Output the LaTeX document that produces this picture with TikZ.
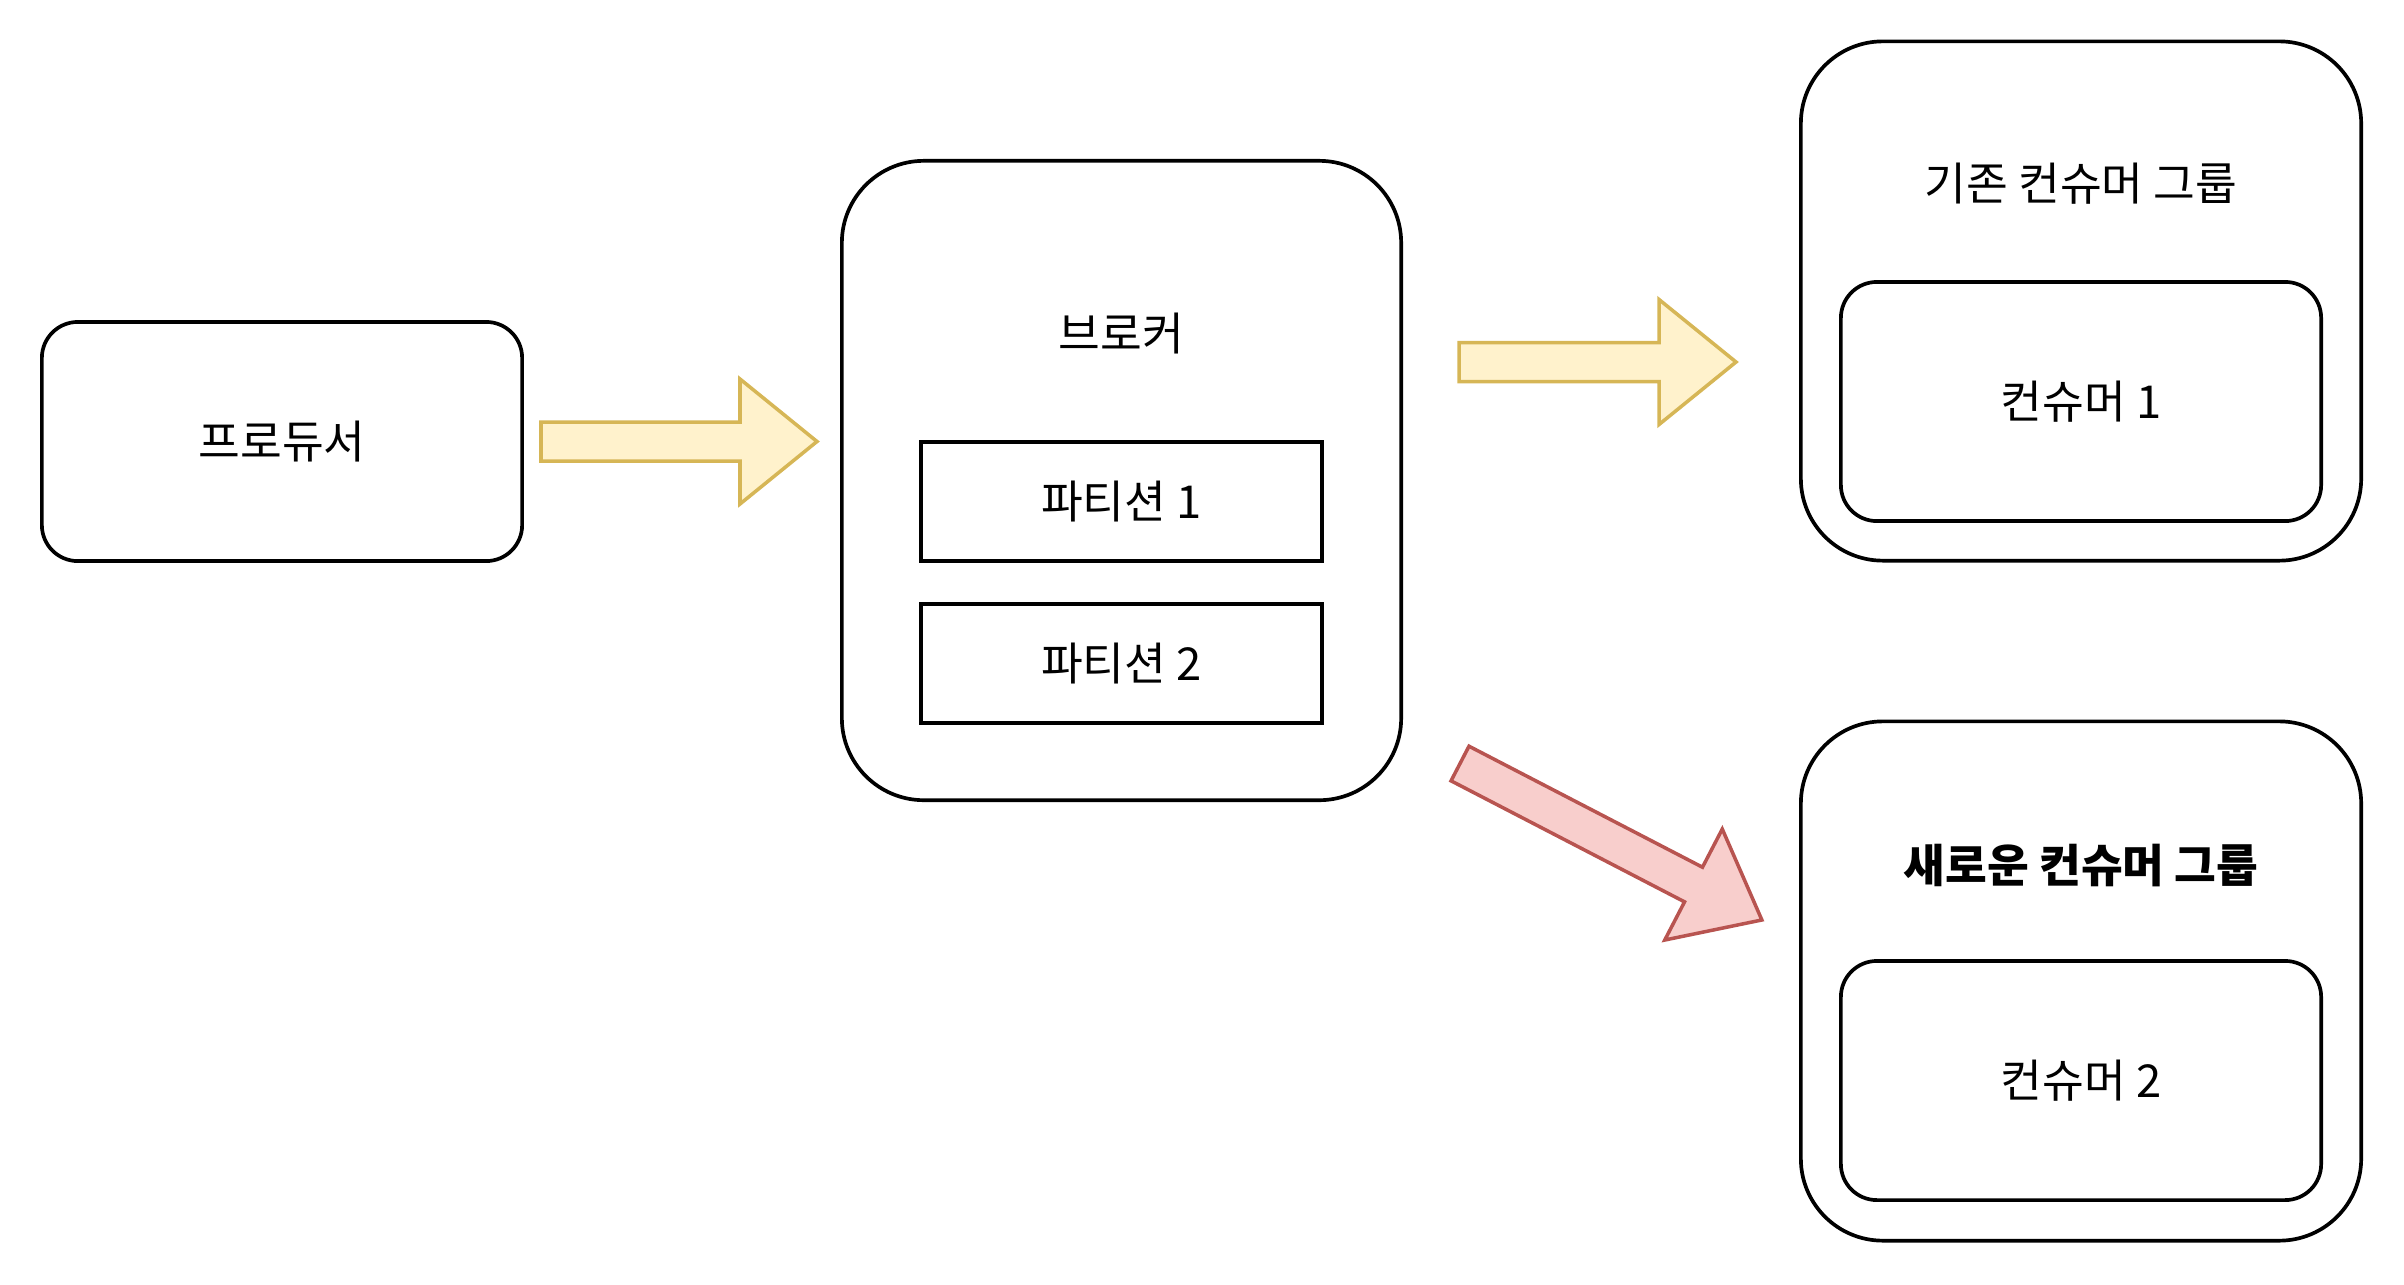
\documentclass[tikz,border=0pt]{standalone}
\usepackage{fontspec}
\setmainfont{Noto Sans CJK KR}
\usetikzlibrary{positioning, calc}
\definecolor{yfill}{HTML}{FFF2CC}
\definecolor{yline}{HTML}{D6B656}
\definecolor{rfill}{HTML}{F8CECC}
\definecolor{rline}{HTML}{B85450}
\tikzset{pics/fatarrow/.style={code={
  \draw[pic actions] (0,-19.5) -- (#1-77,-19.5) -- (#1-77,-62.5) -- (#1,0)
    -- (#1-77,62.5) -- (#1-77,19.5) -- (0,19.5) -- cycle;}}}

\begin{document}
\begin{tikzpicture}[x=0.01cm, y=-0.01cm, node distance=0.39cm,
    every node/.style={font=\fontsize{12.9pt}{15pt}\selectfont},
    card/.style={draw, line width=1.05pt, rounded corners=0.36cm, minimum width=4.8cm, minimum height=2.39cm},
    group/.style={draw, line width=1.05pt, rounded corners=0.82cm, minimum width=5.6cm, minimum height=5.19cm},
    part/.style={draw, line width=1.05pt, minimum width=4.01cm, minimum height=1.19cm},
    yarrow/.style={draw=yline, fill=yfill, line width=1pt},
    rarrow/.style={draw=rline, fill=rfill, line width=1pt}]
    \useasboundingbox (0,0) rectangle (2404,1284);
    % producer and broker
    \node[card] (prod) at (282,441.5) {프로듀서};
    \node[group, minimum width=5.59cm, minimum height=6.39cm] (broker) at (1121.5,480.5) {};
    \node (brokerlbl) at (1121.5,333) {브로커};
    \node[part] (part1) at (1121.5,501.5) {파티션 1};
    \node[part, below=of part1] (part2) {파티션 2};
    % consumer groups
    \node[group] (grp1) at (2081,301) {};
    \node (grp1lbl) at (2081,184) {기존 컨슈머 그룹};
    \node[card] (cons1) at (2081,401.5) {컨슈머 1};
    \node[group] (grp2) at (2081,981) {};
    \node[font=\fontsize{12.9pt}{15pt}\selectfont\bfseries] (grp2lbl) at (2081,866) {새로운 컨슈머 그룹};
    \node[card] (cons2) at (2081,1080.5) {컨슈머 2};
    % flows
    \coordinate (a1) at ($(prod.east)+(17,0)$);
    \coordinate (a2) at ($(broker.east)+(56,-118.5)$);
    \coordinate (a3) at ($(broker.east)+(57,283)$);
    \pic[yarrow] at (a1) {fatarrow=276};
    \pic[yarrow] at (a2) {fatarrow=277};
    \pic[rarrow, rotate=-27.4] at (a3) {fatarrow=340};
  \end{tikzpicture}
\end{document}
